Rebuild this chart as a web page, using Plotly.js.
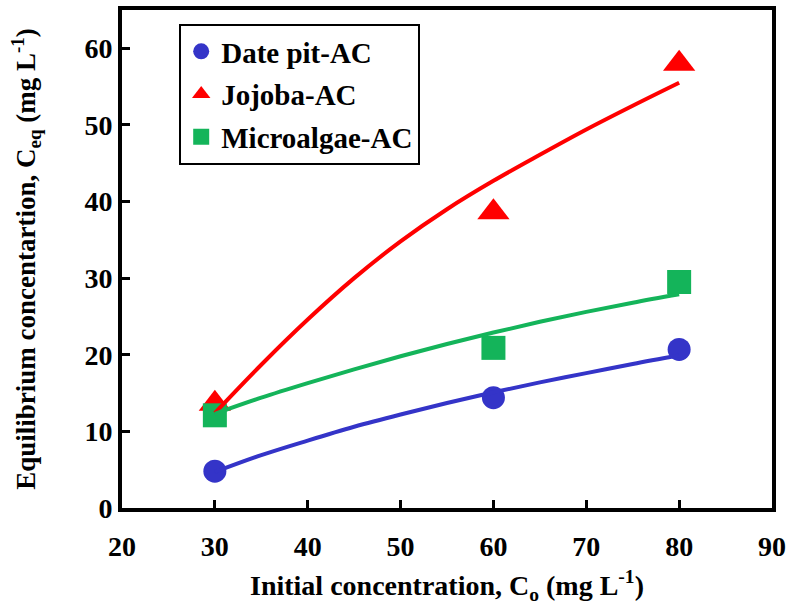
<!DOCTYPE html>
<html>
<head>
<meta charset="utf-8">
<script src="https://cdn.plot.ly/plotly-3.0.1.min.js"></script>
<style>html,body{margin:0;padding:0;background:#fff;}#chart{width:790px;height:608px;}</style>
</head>
<body>
<div id="chart"></div>
<script>
// Measured data points
var initialConc = [30, 60, 80];
var datePit = [4.8, 14.4, 20.7];
var jojoba = [13.6, 38.6, 58.0];
var microalgae = [12.1, 20.9, 29.5];

// Fitted curves
var fitX = [30, 35, 40, 45, 50, 55, 60, 65, 70, 75, 80];
var fitDatePit = [4.7, 6.9, 8.8, 10.6, 12.2, 13.7, 15.1, 16.4, 17.6, 18.8, 19.9];
var fitJojoba = [12.4, 18.7, 24.6, 30.0, 34.8, 39.0, 42.7, 46.1, 49.4, 52.5, 55.5];
var fitMicroalgae = [12.3, 14.4, 16.3, 18.1, 19.8, 21.4, 22.9, 24.3, 25.6, 26.8, 27.9];

var seriesNames = ['Date pit-AC', 'Jojoba-AC', 'Microalgae-AC'];
var xTicks = [20, 30, 40, 50, 60, 70, 80, 90];
var yTicks = [0, 10, 20, 30, 40, 50, 60];

var BLUE = '#3434C8', RED = '#FF0000', GREEN = '#14B45A';
var FONT = "'Liberation Serif', 'Times New Roman', serif";

var traces = [
  {x: initialConc, y: datePit, name: seriesNames[0], mode: 'markers', type: 'scatter',
   legendgroup: 'a', marker: {symbol: 'circle', size: 23, color: BLUE}},
  {x: initialConc, y: jojoba, name: seriesNames[1], mode: 'markers', type: 'scatter',
   legendgroup: 'b', marker: {symbol: 'triangle-up', size: 28, color: RED}},
  {x: initialConc, y: microalgae, name: seriesNames[2], mode: 'markers', type: 'scatter',
   legendgroup: 'c', marker: {symbol: 'square', size: 24, color: GREEN}},
  {x: fitX, y: fitDatePit, mode: 'lines', type: 'scatter', showlegend: false,
   line: {color: BLUE, width: 4, shape: 'spline'}, hoverinfo: 'skip'},
  {x: fitX, y: fitJojoba, mode: 'lines', type: 'scatter', showlegend: false,
   line: {color: RED, width: 4, shape: 'spline'}, hoverinfo: 'skip'},
  {x: fitX, y: fitMicroalgae, mode: 'lines', type: 'scatter', showlegend: false,
   line: {color: GREEN, width: 4, shape: 'spline'}, hoverinfo: 'skip'}
];

var layout = {
  width: 790, height: 608,
  margin: {l: 122, r: 18, t: 10, b: 100},
  paper_bgcolor: '#fff', plot_bgcolor: '#fff',
  font: {family: FONT, size: 27, color: '#000'},
  showlegend: true,
  legend: {
    x: 0.088, y: 0.972, xanchor: 'left', yanchor: 'top',
    bgcolor: '#fff', bordercolor: '#000', borderwidth: 2,
    font: {family: FONT, size: 29, color: '#000', weight: 'bold'},
    traceorder: 'grouped', tracegroupgap: 2,
    itemwidth: 30, entrywidth: 222, entrywidthmode: 'pixels'
  },
  xaxis: {
    range: [20, 90], tickvals: xTicks, ticktext: xTicks.map(String),
    showgrid: false, zeroline: false,
    showline: true, linecolor: '#000', linewidth: 4, mirror: true,
    ticks: 'inside', ticklen: 8, tickwidth: 3, tickcolor: '#000',
    ticklabelstandoff: 10,
    tickfont: {family: FONT, size: 28, color: '#000', weight: 'bold'},
    title: {text: 'Initial concentration, C<sub>o</sub> (mg L<sup>-1</sup>)',
            font: {family: FONT, size: 28, color: '#000', weight: 'bold'}, standoff: 16}
  },
  yaxis: {
    range: [0, 65], tickvals: yTicks, ticktext: yTicks.map(String),
    showgrid: false, zeroline: false,
    showline: true, linecolor: '#000', linewidth: 4, mirror: true,
    ticks: 'inside', ticklen: 8, tickwidth: 3, tickcolor: '#000',
    tickfont: {family: FONT, size: 28, color: '#000', weight: 'bold'},
    title: {text: 'Equilibrium concentartion, C<sub>eq</sub> (mg L<sup>-1</sup>)',
            font: {family: FONT, size: 27, color: '#000', weight: 'bold'}, standoff: 42}
  }
};

Plotly.newPlot('chart', traces, layout, {displayModeBar: false, staticPlot: true});
</script>
</body>
</html>
